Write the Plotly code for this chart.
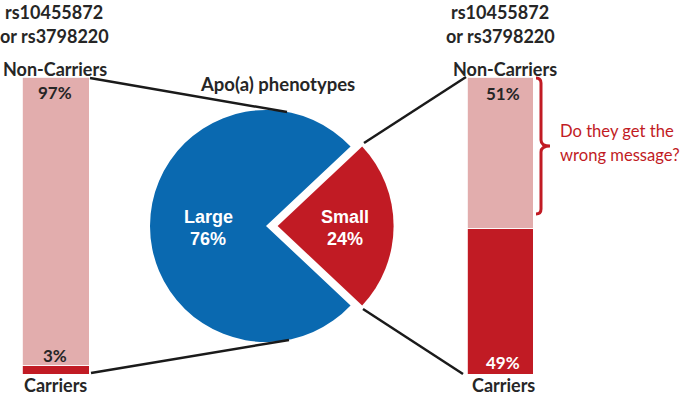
import plotly.graph_objects as go

# ---- data ----
bar_groups = ["left", "right"]
carriers_pct = [3, 49]
noncarriers_pct = [97, 51]
pie_labels = ["Small", "Large"]
pie_values = [24, 76]

# ---- style ----
RED = "#C11B24"
PINK = "#E2ADAD"
BLUE = "#0A69B0"
DARK = "#262626"
TXT_FONT = "Lato"

W, H = 685, 400
bar_x = {"left": 55.5, "right": 500}
bar_w = {"left": 67, "right": 66}

fig = go.Figure()

fig.add_trace(go.Bar(
    x=[bar_x[g] for g in bar_groups], y=carriers_pct,
    width=[bar_w[g] for g in bar_groups],
    marker=dict(color=RED, line=dict(color="white", width=0.8)),
    xaxis="x", yaxis="y", hoverinfo="skip", showlegend=False))
fig.add_trace(go.Bar(
    x=[bar_x[g] for g in bar_groups], y=noncarriers_pct,
    width=[bar_w[g] for g in bar_groups],
    marker=dict(color=PINK, line=dict(color="white", width=0.8)),
    xaxis="x", yaxis="y", hoverinfo="skip", showlegend=False))

cx, cy, r, pull = 266, 226, 116, 0.1
half = r * (1 + pull)
fig.add_trace(go.Pie(
    labels=pie_labels, values=pie_values, sort=False,
    direction="clockwise", rotation=90 - pie_values[0] * 3.6 / 2,
    pull=[pull, 0], marker=dict(colors=[RED, BLUE], line=dict(width=0)),
    textinfo="none", hoverinfo="skip", showlegend=False,
    domain=dict(x=[(cx - half) / W, (cx + half) / W],
                y=[1 - (cy + half) / H, 1 - (cy - half) / H])))

y0_px, y100_px = 374, 77

annotations = []
def txt(x, y, s, size, color=DARK, bold=True, family=TXT_FONT, xanchor="center"):
    annotations.append(dict(
        x=x, y=y, xref="x", yref="y2", text=f"<b>{s}</b>" if bold else s,
        showarrow=False, xanchor=xanchor, yanchor="middle",
        font=dict(size=size, color=color, family=family)))

txt(54, 12, "rs10455872", 18)
txt(54, 36, "or rs3798220", 18)
txt(500, 12, "rs10455872", 18)
txt(500, 36, "or rs3798220", 18)
txt(55, 69, "Non-Carriers", 18)
txt(505, 69, "Non-Carriers", 18)
txt(55, 385, "Carriers", 18)
txt(503, 385, "Carriers", 18)
txt(277, 84, "Apo(a) phenotypes", 18.5)

txt(55, 92, f"{noncarriers_pct[0]}%", 17)
txt(55, 355, f"{carriers_pct[0]}%", 17)
txt(503, 93, f"{noncarriers_pct[1]}%", 17)
txt(503, 362, f"{carriers_pct[1]}%", 17, color="white")

PF = "Liberation Sans, Arial"
txt(208, 217, "Large", 18, color="white", family=PF)
txt(208, 239, f"{pie_values[1]}%", 18, color="white", family=PF)
txt(345, 217, "Small", 18, color="white", family=PF)
txt(345, 239, f"{pie_values[0]}%", 18, color="white", family=PF)

txt(558, 131, "Do they get the", 16.6, color=RED, bold=False, xanchor="left")
txt(558, 155, "wrong message?", 16.6, color=RED, bold=False, xanchor="left")

shapes = []
def line(x0, y0, x1, y1):
    shapes.append(dict(type="line", xref="x", yref="y2", x0=x0, y0=y0, x1=x1, y1=y1,
                       line=dict(color="#1a1a1a", width=2.5)))

line(90, 78, 287, 112)
line(91, 373, 289, 340)
line(364, 143, 466, 77)
line(363, 309, 463, 374)

shapes.append(dict(
    type="path", xref="x", yref="y2",
    path="M 536,78 Q 541,78 541,83 L 541,140 Q 541,146 550,146 "
         "Q 541,146 541,152 L 541,209 Q 541,214 536,214",
    line=dict(color=RED, width=3)))

fig.update_layout(
    width=W, height=H, margin=dict(l=0, r=0, t=0, b=0),
    paper_bgcolor="white", plot_bgcolor="rgba(0,0,0,0)",
    barmode="stack",
    xaxis=dict(range=[0, W], domain=[0, 1], visible=False, fixedrange=True),
    yaxis=dict(range=[0, 100], domain=[1 - y0_px / H, 1 - y100_px / H],
               visible=False, fixedrange=True),
    yaxis2=dict(range=[H, 0], domain=[0, 1], anchor="x", visible=False, fixedrange=True),
    annotations=annotations, shapes=shapes,
)

fig.write_html("out.html", config={"displayModeBar": False},
               post_script="document.body.style.margin='0px';document.body.style.overflow='hidden';")
